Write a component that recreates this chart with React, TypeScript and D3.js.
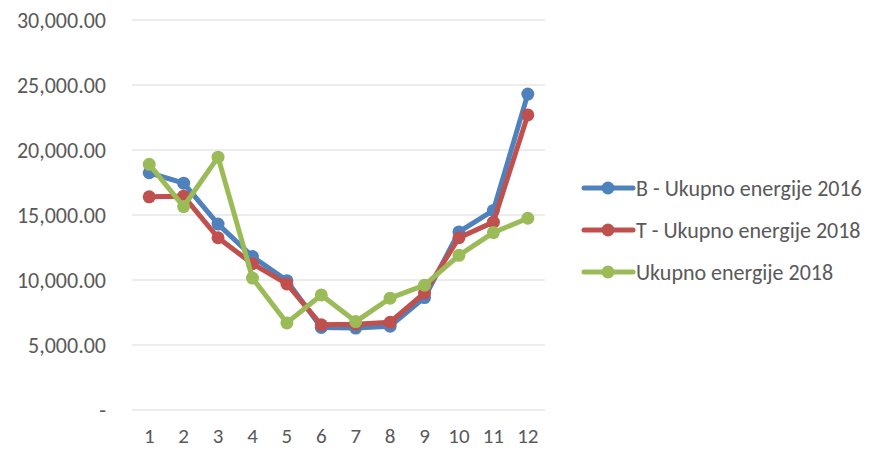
import React from 'react';
import * as d3 from 'd3';

const months = ['1', '2', '3', '4', '5', '6', '7', '8', '9', '10', '11', '12'];
const yTicks = [0, 5000, 10000, 15000, 20000, 25000, 30000];

const seriesB2016 = [18250, 17450, 14300, 11800, 9950, 6350, 6300, 6450, 8650, 13700, 15350, 24300];
const seriesT2018 = [16400, 16450, 13250, 11250, 9700, 6550, 6600, 6750, 9000, 13250, 14450, 22700];
const seriesU2018 = [18900, 15650, 19450, 10150, 6700, 8850, 6800, 8600, 9600, 11900, 13650, 14750];

const seriesNames = ['B - Ukupno energije 2016', 'T - Ukupno energije 2018', 'Ukupno energije 2018'];
const seriesColors = ['#4F81BD', '#C0504D', '#9BBB59'];

const App = () => {
  const width = 874;
  const height = 451;
  const left = 132;
  const right = 545;
  const top = 20;
  const bottom = 410;

  const x = d3.scaleBand().domain(months).range([left, right]);
  const y = d3.scaleLinear().domain([0, 30000]).range([bottom, top]);

  const line = d3.line<number>()
    .x((_, i) => (x(months[i]) as number) + x.bandwidth() / 2)
    .y(d => y(d));

  const fmt = (v: number) => (v === 0 ? '-' : d3.format(',.2f')(v));
  const all = [seriesB2016, seriesT2018, seriesU2018];
  const font = 'Carlito, Lato, sans-serif';

  return (
    <svg width={width} height={height} style={{ position: 'absolute', left: 0, top: 0 }} fontFamily={font}>
      <rect width={width} height={height} fill="#fff" />
      {yTicks.map(t => (
        <g key={t}>
          <line x1={left} x2={right} y1={y(t)} y2={y(t)} stroke="#D9D9D9" strokeWidth={1} />
          <text x={106} y={y(t)} dy="0.35em" textAnchor="end" fontSize={22} fill="#595959">{fmt(t)}</text>
        </g>
      ))}
      {months.map(m => (
        <text key={m} x={(x(m) as number) + x.bandwidth() / 2} y={436} dy="0.33em" textAnchor="middle" fontSize={21} fill="#595959">{m}</text>
      ))}
      {all.map((s, k) => (
        <g key={k}>
          <path d={line(s) || ''} fill="none" stroke={seriesColors[k]} strokeWidth={5} strokeLinejoin="round" />
          {s.map((v, i) => (
            <circle key={i} cx={(x(months[i]) as number) + x.bandwidth() / 2} cy={y(v)} r={6.5} fill={seriesColors[k]} />
          ))}
        </g>
      ))}
      {seriesNames.map((n, k) => {
        const ly = 188 + k * 42;
        return (
          <g key={n}>
            <line x1={584} x2={633} y1={ly} y2={ly} stroke={seriesColors[k]} strokeWidth={5} strokeLinecap="round" />
            <circle cx={608} cy={ly} r={6.5} fill={seriesColors[k]} />
            <text x={636} y={ly} dy="0.35em" fontSize={22} fill="#595959">{n}</text>
          </g>
        );
      })}
    </svg>
  );
};

export default App;
